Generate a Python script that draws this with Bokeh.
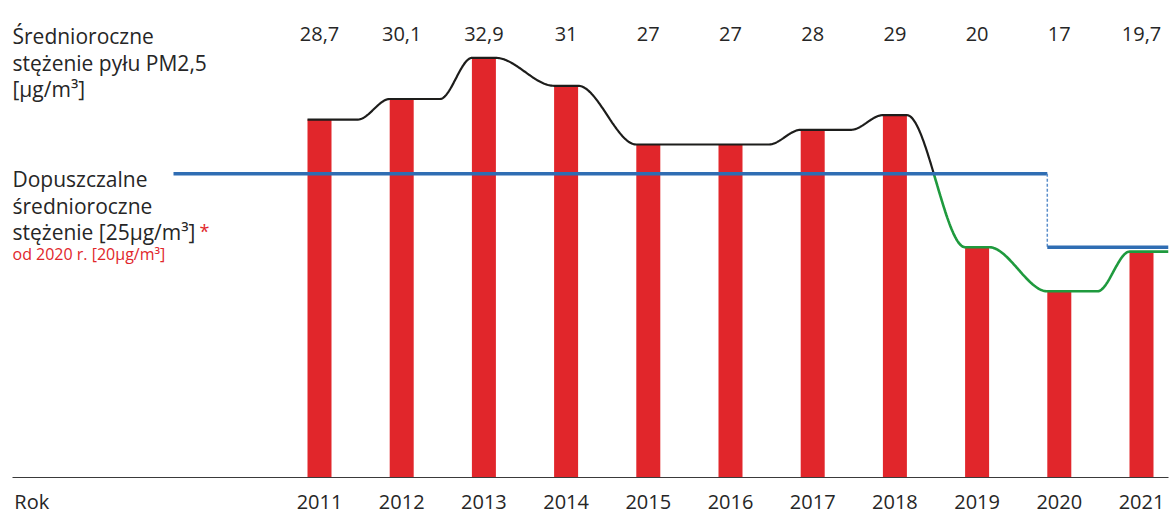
import numpy as np
from bokeh.plotting import figure
from bokeh.models import Range1d, Label, FixedTicker, ColumnDataSource
from bokeh.core.properties import value
from bokeh.embed import file_html
from bokeh.resources import INLINE

# ---- data ----
years = [2011, 2012, 2013, 2014, 2015, 2016, 2017, 2018, 2019, 2020, 2021]
pm25 = [28.7, 30.1, 32.9, 31, 27, 27, 28, 29, 20, 17, 19.7]
value_labels = ["28,7", "30,1", "32,9", "31", "27", "27", "28", "29", "20", "17", "19,7"]
limit_old = 25
limit_new = 20
limit_change_year = 2020
axis_title = "Rok"

# ---- layout constants (picture pixels) ----
X0_PX, PX_PER_YEAR = 319.0, 82.2
Y0_PX, PX_PER_UNIT = 543.7, 14.77
W, H = 1171, 517
FRAME_L, FRAME_R, FRAME_B = 12, 1168, 480
FONT = "Open Sans"
TXT = "#262626"
RED = "#e1262b"
BLUE = "#2f6db3"


def xd(px):
    return years[0] + (px - X0_PX) / PX_PER_YEAR


def yd(py):
    return (Y0_PX - py) / PX_PER_UNIT


x_start, x_end = xd(FRAME_L), xd(FRAME_R)
y_start, y_end = yd(FRAME_B), yd(0)

p = figure(width=W, height=H, x_range=Range1d(x_start, x_end), y_range=Range1d(y_start, y_end),
           output_backend="svg", toolbar_location=None,
           min_border_left=FRAME_L, min_border_right=W - FRAME_R, min_border_top=0,
           min_border_bottom=H - FRAME_B)
p.outline_line_color = None
p.grid.visible = False
p.yaxis.visible = False
p.background_fill_color = "white"

# bars
hw = 12.0 / PX_PER_YEAR
src = ColumnDataSource(dict(x=years, top=pm25, lab=value_labels))
p.vbar(x="x", top="top", bottom=y_start, width=2 * hw, source=src, fill_color=RED, line_color=None)

# value labels on top row
p.text(x="x", y=yd(34), text="lab", source=src, text_align="center", text_baseline="alphabetic",
       text_font=value(FONT), text_font_size=value("20px"), text_color=TXT)

# smooth trend line across bar tops
rise = 32.0 / PX_PER_YEAR
xs, ys = [years[0] - hw], [pm25[0]]
for i in range(len(years) - 1):
    a, b = pm25[i], pm25[i + 1]
    if a == b:
        continue
    end = years[i + 1] - hw
    start = years[i] + hw if b < a else end - rise
    t = np.linspace(0, 1, 60)
    s = t * t * (3 - 2 * t)
    xs += list(start + (end - start) * t)
    ys += list(a + (b - a) * s)
xs.append(x_end)
ys.append(pm25[-1])

# split into above (black) / below (green) the limit
segs = []
cur_x, cur_y = [xs[0]], [ys[0]]
cur_above = ys[0] >= limit_old
for k in range(1, len(xs)):
    above = ys[k] >= limit_old
    if above != cur_above:
        f = (limit_old - ys[k - 1]) / (ys[k] - ys[k - 1])
        cx = xs[k - 1] + f * (xs[k] - xs[k - 1])
        cur_x.append(cx); cur_y.append(limit_old)
        segs.append((cur_above, cur_x, cur_y))
        cur_x, cur_y = [cx], [limit_old]
        cur_above = above
    cur_x.append(xs[k]); cur_y.append(ys[k])
segs.append((cur_above, cur_x, cur_y))
for above, sx, sy in segs:
    p.line(sx, sy, line_color="#1d1d1b" if above else "#1f9a3e", line_width=2.2 if above else 2.6)

# limit line
step_x = limit_change_year - hw
p.line([xd(173), step_x], [limit_old, limit_old], line_color=BLUE, line_width=3.5)
p.line([step_x, step_x], [limit_old, limit_new], line_color="#5b8fcb", line_width=1.5, line_dash="3 2")
p.line([step_x, x_end], [limit_new, limit_new], line_color=BLUE, line_width=3.5)

# bottom axis = years + baseline, with "Rok" at the left
rok_tick = 2007.5
p.xaxis.ticker = FixedTicker(ticks=[rok_tick] + years)
p.xaxis.major_label_overrides = {rok_tick: axis_title}
p.xaxis.major_label_text_font = FONT
p.xaxis.major_label_text_font_size = "20px"
p.xaxis.major_label_text_color = TXT
p.xaxis.major_label_standoff = 4
p.xaxis.axis_line_color = "#3a3a3a"
p.xaxis.axis_line_width = 1
p.xaxis.major_tick_line_color = None
p.xaxis.minor_tick_line_color = None


# left texts
def lab(text, py, px=12, size="21px", color=TXT):
    p.add_layout(Label(x=xd(px), y=yd(py), text=text, text_font=FONT, text_font_size=size,
                       text_color=color, text_baseline="alphabetic", text_align="left"))


lab("Średnioroczne", 36)
lab("stężenie pyłu PM2,5", 63)
lab("[µg/m³]", 89)
lab("Dopuszczalne", 180)
lab("średnioroczne", 207)
lab("stężenie [25µg/m³]", 233)
lab("*", 232, px=199, size="18px", color=RED)
lab("od 2020 r. [20µg/m³]", 255, size="16px", color=RED)

open("out.html", "w").write(file_html(p, INLINE))
